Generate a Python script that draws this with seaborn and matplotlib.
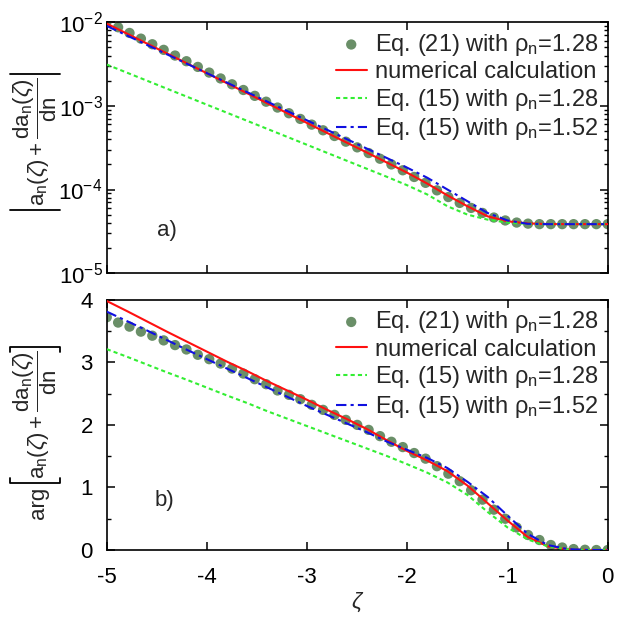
import numpy as np
import matplotlib
matplotlib.use('Agg')
import matplotlib.pyplot as plt
import seaborn as sns
from matplotlib.lines import Line2D
from matplotlib.transforms import IdentityTransform
from matplotlib.ticker import LogLocator, MultipleLocator, NullFormatter

# --- data ---
zeta_line = [-5.0, -4.8, -4.6, -4.4, -4.2, -4.0, -3.8, -3.6, -3.4, -3.2, -3.0,
             -2.8, -2.6, -2.4, -2.2, -2.0, -1.8, -1.6, -1.4, -1.2, -1.0,
             -0.8, -0.6, -0.4, -0.2, 0.0]
zeta_dots = np.linspace(-5.0, 0.0, 45)

# panel a) : log10 of |a_n + da_n/dn|
abs_num = [-2.016, -2.135, -2.254, -2.372, -2.491, -2.61, -2.729, -2.848, -2.967,
           -3.086, -3.205, -3.324, -3.442, -3.56, -3.68, -3.80, -3.93, -4.07,
           -4.20, -4.32, -4.38, -4.405, -4.413, -4.414, -4.414, -4.414]
abs_eq15_128 = [-2.506, -2.602, -2.698, -2.794, -2.89, -2.986, -3.082, -3.178,
                -3.274, -3.37, -3.466, -3.562, -3.658, -3.754, -3.85, -3.95,
                -4.06, -4.20, -4.30, -4.36, -4.395, -4.41, -4.414, -4.414,
                -4.414, -4.414]
abs_eq15_152 = [-2.044, -2.157, -2.27, -2.383, -2.496, -2.609, -2.722, -2.835,
                -2.948, -3.061, -3.174, -3.287, -3.40, -3.513, -3.626, -3.74,
                -3.86, -4.00, -4.14, -4.28, -4.37, -4.41, -4.414, -4.414,
                -4.414, -4.414]
abs_eq21 = [-1.99, -2.06, -2.128, -2.196, -2.263, -2.33, -2.398, -2.466, -2.534,
            -2.602, -2.672, -2.742, -2.81, -2.88, -2.95, -3.02, -3.088, -3.156,
            -3.224, -3.292, -3.36, -3.428, -3.496, -3.564, -3.632, -3.70, -3.77,
            -3.85, -3.92, -4.01, -4.09, -4.16, -4.22, -4.28, -4.335, -4.37,
            -4.395, -4.408, -4.414, -4.414, -4.414, -4.414, -4.414, -4.414, -4.414]

# panel b) : arg[a_n + da_n/dn]
arg_num = [3.98, 3.82, 3.655, 3.49, 3.33, 3.17, 3.01, 2.86, 2.70, 2.55, 2.40,
           2.24, 2.09, 1.93, 1.75, 1.58, 1.43, 1.26, 1.03, 0.75, 0.47, 0.21,
           0.06, 0.01, 0.0, 0.0]
arg_eq15_128 = [3.21, 3.09, 2.965, 2.84, 2.72, 2.595, 2.47, 2.35, 2.22, 2.10,
                1.98, 1.86, 1.74, 1.62, 1.50, 1.37, 1.235, 1.08, 0.88, 0.61,
                0.36, 0.17, 0.06, 0.01, 0.0, 0.0]
arg_eq15_152 = [3.81, 3.66, 3.51, 3.355, 3.20, 3.05, 2.90, 2.75, 2.60, 2.45,
                2.30, 2.16, 2.02, 1.88, 1.73, 1.60, 1.47, 1.31, 1.09, 0.85,
                0.55, 0.26, 0.08, 0.015, 0.0, 0.0]
arg_eq21 = [3.72, 3.635, 3.57, 3.49, 3.425, 3.35, 3.275, 3.205, 3.12, 3.05, 2.98,
            2.9, 2.82, 2.73, 2.65, 2.55, 2.48, 2.41, 2.32, 2.24, 2.16, 2.08, 2.0,
            1.92, 1.82, 1.73, 1.645, 1.55, 1.46, 1.34, 1.22, 1.10, 0.955, 0.805,
            0.645, 0.50, 0.36, 0.24, 0.16, 0.08, 0.04, 0.015, 0.004, 0.0, 0.0]

labels = [r'Eq. (21) with $\mathrm{\rho_n}$=1.28',
          'numerical calculation',
          r'Eq. (15) with $\mathrm{\rho_n}$=1.28',
          r'Eq. (15) with $\mathrm{\rho_n}$=1.52']
ylab_expr = r'$\mathrm{a_n}(\zeta)+\dfrac{\mathrm{da_n}(\zeta)}{\mathrm{dn}}$'

# --- style ---
sns.set_theme(style='ticks')
plt.rcParams['font.family'] = ['Liberation Sans', 'DejaVu Sans']
plt.rcParams['mathtext.fontset'] = 'custom'
plt.rcParams['mathtext.rm'] = 'Liberation Sans'
plt.rcParams['mathtext.it'] = 'Liberation Sans:italic'
plt.rcParams['mathtext.bf'] = 'Liberation Sans:bold'
plt.rcParams['axes.unicode_minus'] = False
plt.rcParams['axes.edgecolor'] = 'black'
plt.rcParams['axes.linewidth'] = 1.2

dot_color = '#6a8f68'
red = '#ff1010'
green = '#33ee33'
blue = '#1010e0'
FS = 16
LFS = 17

fig = plt.figure(figsize=(6.17, 6.18), dpi=100)
ax1 = fig.add_axes([0.173, 0.558, 0.812, 0.406])
ax2 = fig.add_axes([0.173, 0.110, 0.812, 0.405])

panels = [
    (ax1, 10 ** np.array(abs_eq21), 10 ** np.array(abs_num),
     10 ** np.array(abs_eq15_128), 10 ** np.array(abs_eq15_152)),
    (ax2, arg_eq21, arg_num, arg_eq15_128, arg_eq15_152),
]

for ax, dots, num, e128, e152 in panels:
    sns.scatterplot(x=zeta_dots, y=dots, ax=ax, color=dot_color, s=55,
                    edgecolor='none', zorder=2, label=labels[0])
    sns.lineplot(x=zeta_line, y=num, ax=ax, color=red, lw=1.5, zorder=3,
                 label=labels[1])
    sns.lineplot(x=zeta_line, y=e128, ax=ax, color=green, lw=1.5, zorder=3,
                 linestyle=(0, (2, 1.5)), label=labels[2])
    sns.lineplot(x=zeta_line, y=e152, ax=ax, color=blue, lw=1.5, zorder=4,
                 linestyle=(0, (5, 2, 1.5, 2)), label=labels[3])
    ax.set_xlim(-5, 0)
    ax.set_xticks([-5, -4, -3, -2, -1, 0])
    ax.tick_params(which='both', direction='in', top=True, right=True,
                   colors='black', labelsize=FS)
    ax.tick_params(which='major', length=6, width=1.1)
    ax.tick_params(which='minor', length=3, width=1.0)
    ax.legend(loc='upper right', frameon=False, fontsize=LFS, labelspacing=0.15,
              handlelength=1.3, handletextpad=0.35, borderaxespad=0.1,
              borderpad=0.3)
    for sp in ax.spines.values():
        sp.set_visible(True)
        sp.set_color('black')

# panel a)
ax1.set_yscale('log')
ax1.set_ylim(1e-5, 1e-2)
ax1.yaxis.set_major_locator(LogLocator(base=10, numticks=10))
ax1.yaxis.set_minor_locator(LogLocator(base=10, subs=np.arange(2, 10), numticks=10))
ax1.yaxis.set_minor_formatter(NullFormatter())
ax1.tick_params(axis='x', labelbottom=False)
ax1.tick_params(axis='y', pad=3)
ax1.text(-4.4, 10 ** -4.486, 'a)', fontsize=FS, ha='center', va='center')

# panel b)
ax2.set_ylim(0, 4)
ax2.set_yticks([0, 1, 2, 3, 4])
ax2.yaxis.set_minor_locator(MultipleLocator(0.5))
ax2.tick_params(axis='y', pad=10)
ax2.tick_params(axis='x', pad=12)
ax2.set_xlabel(r'$\zeta$', fontsize=FS, labelpad=2)
ax2.text(-4.42, 0.79, 'b)', fontsize=FS, ha='center', va='center')

# --- y labels: expression text plus hand-drawn |...| and [...] delimiters ---
H = fig.get_size_inches()[1] * fig.dpi
px = IdentityTransform()
base_x = 44                      # baseline of the rotated label, pixels
ta = fig.text(base_x, H - 142, ylab_expr, rotation=90, rotation_mode='anchor',
              ha='center', va='baseline', fontsize=FS, transform=px)
tb = fig.text(base_x, H - 415, ylab_expr, rotation=90, rotation_mode='anchor',
              ha='center', va='baseline', fontsize=FS, transform=px)
fig.canvas.draw()
rend = fig.canvas.get_renderer()

ba = ta.get_window_extent(rend)
for yy in (ba.y0 - 4, ba.y1 + 4):
    fig.add_artist(Line2D([ba.x0 - 1, ba.x1 + 1], [yy, yy], transform=px,
                          color='black', lw=1.3))

bb = tb.get_window_extent(rend)
lo, hi = bb.y0 - 4, bb.y1 + 4
fig.add_artist(Line2D([bb.x0 - 1, bb.x0 - 1, bb.x1 + 1, bb.x1 + 1],
                      [lo + 5, lo, lo, lo + 5], transform=px,
                      color='black', lw=1.3))
fig.add_artist(Line2D([bb.x0 - 1, bb.x0 - 1, bb.x1 + 1, bb.x1 + 1],
                      [hi - 5, hi, hi, hi - 5], transform=px,
                      color='black', lw=1.3))
fig.text(base_x, lo - 3, 'arg', rotation=90, rotation_mode='anchor',
         ha='right', va='baseline', fontsize=FS, transform=px)

fig.savefig('out.png', dpi=100)
